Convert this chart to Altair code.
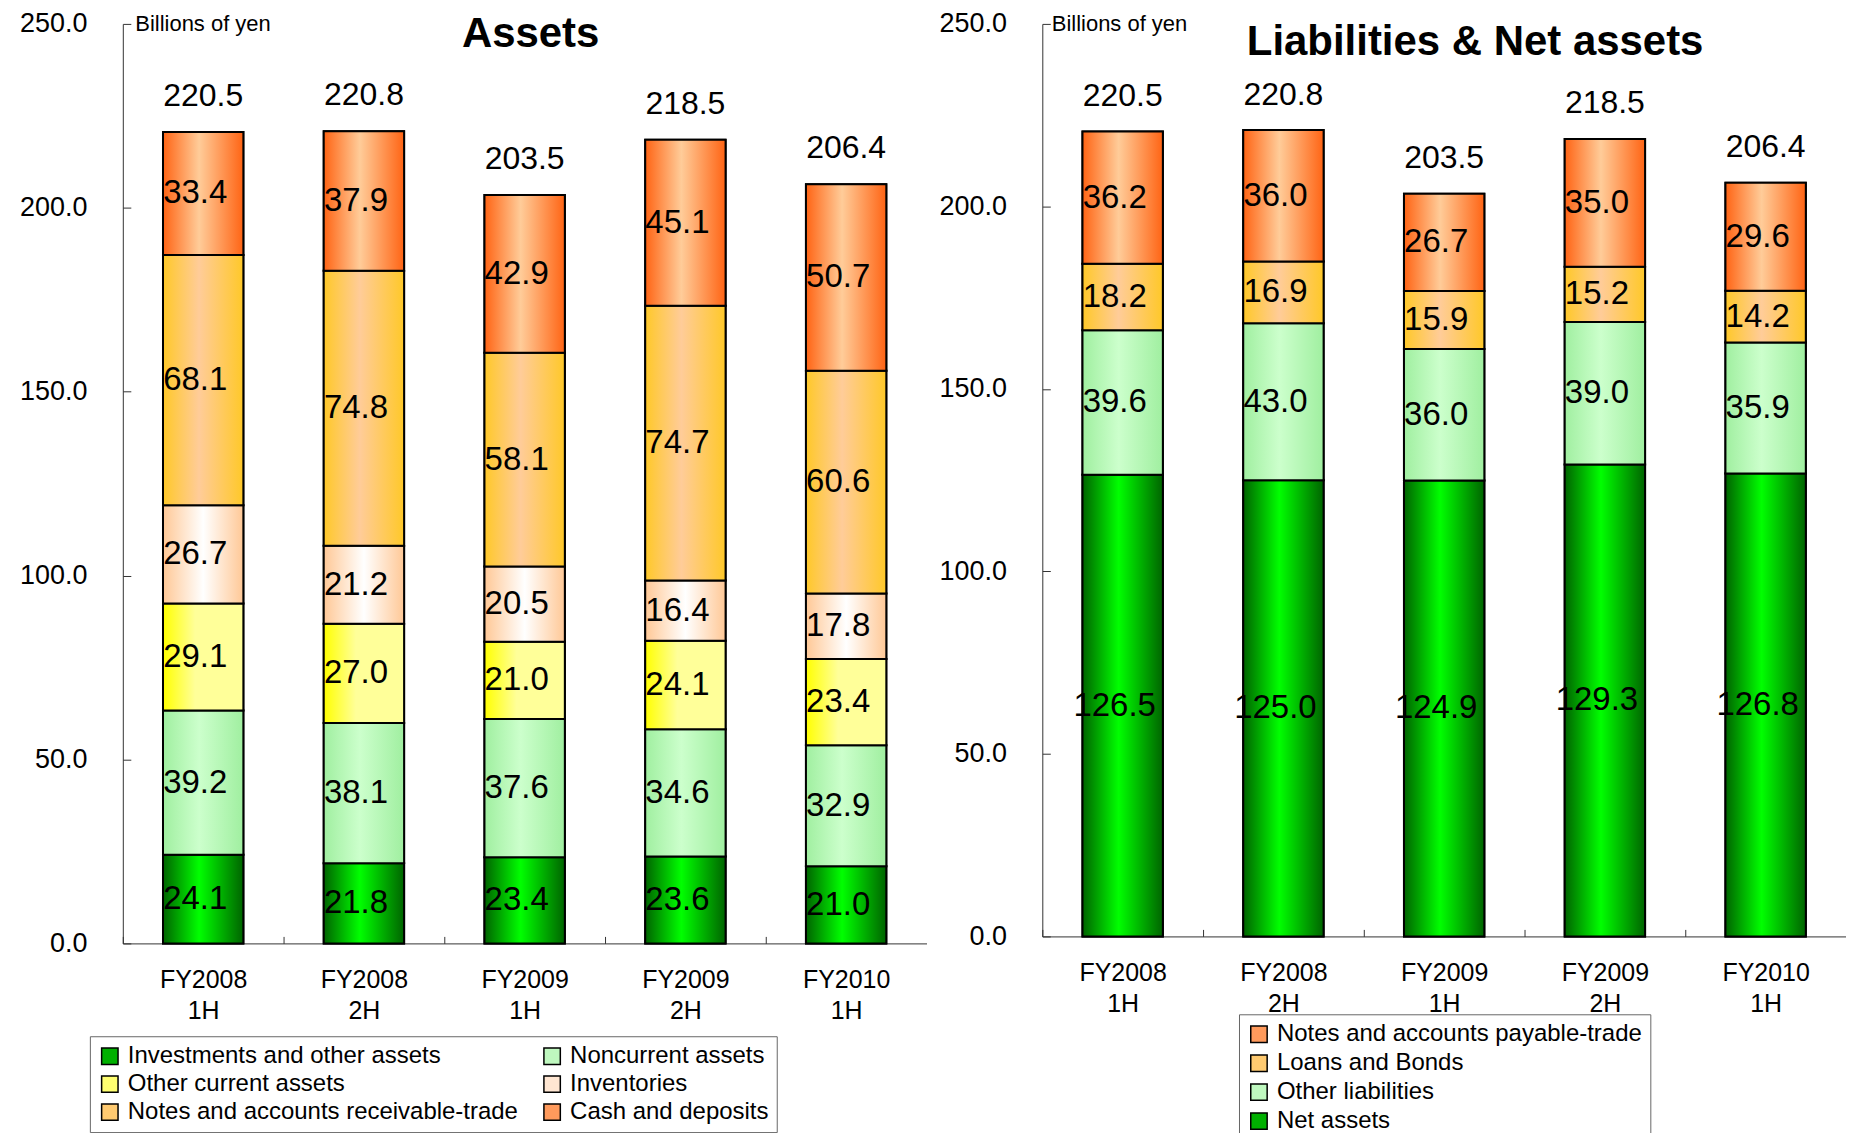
import altair as alt
import pandas as pd

# ---------------- data ----------------
categories = ["FY2008 1H", "FY2008 2H", "FY2009 1H", "FY2009 2H", "FY2010 1H"]
totals = [220.5, 220.8, 203.5, 218.5, 206.4]

asset_series = ["Investments and other assets", "Noncurrent assets", "Other current assets",
                "Inventories", "Notes and accounts receivable-trade", "Cash and deposits"]
investments = [24.1, 21.8, 23.4, 23.6, 21.0]
noncurrent = [39.2, 38.1, 37.6, 34.6, 32.9]
other_current = [29.1, 27.0, 21.0, 24.1, 23.4]
inventories = [26.7, 21.2, 20.5, 16.4, 17.8]
receivable = [68.1, 74.8, 58.1, 74.7, 60.6]
cash = [33.4, 37.9, 42.9, 45.1, 50.7]

liab_series = ["Net assets", "Other liabilities", "Loans and Bonds", "Notes and accounts payable-trade"]
net_assets = [126.5, 125.0, 124.9, 129.3, 126.8]
other_liab = [39.6, 43.0, 36.0, 39.0, 35.9]
loans = [18.2, 16.9, 15.9, 15.2, 14.2]
payable = [36.2, 36.0, 26.7, 35.0, 29.6]

y_ticks = [0, 50, 100, 150, 200, 250]

# ---------------- styling ----------------
FONT = "Liberation Sans, Arial, sans-serif"
TFONT = "Liberation Sans, Arial, sans-serif"

# edge colour, centre colour, legend colour, centre position
styles = {
    "Investments and other assets": ("#006400", "#00FF00", "#00B000", 0.45),
    "Noncurrent assets": ("#A0EFA0", "#CCFFCC", "#BFF8BF", 0.45),
    "Other current assets": ("#FFFF00", "#FFFF99", "#FFFF70", 0.4),
    "Inventories": ("#FFC896", "#FFFFFF", "#FFE6D2", 0.5),
    "Notes and accounts receivable-trade": ("#FFC828", "#FFCC99", "#FFCA70", 0.45),
    "Cash and deposits": ("#FF6414", "#FFCC99", "#FF9A5C", 0.45),
    "Net assets": ("#006400", "#00FF00", "#00B000", 0.45),
    "Other liabilities": ("#A0EFA0", "#CCFFCC", "#BFF8BF", 0.45),
    "Loans and Bonds": ("#FFC828", "#FFCC99", "#FFCA70", 0.45),
    "Notes and accounts payable-trade": ("#FF6414", "#FFCC99", "#FF9A5C", 0.45),
}


def gradient(name):
    edge, centre, _, pos = styles[name]
    last = centre if name == "Other current assets" else edge
    stops = [alt.GradientStop(color=edge, offset=0),
             alt.GradientStop(color=centre, offset=pos),
             alt.GradientStop(color=last, offset=1)]
    return alt.LinearGradient(gradient="linear", x1=0, x2=1, y1=0, y2=0, stops=stops)


def long_df(series, arrays):
    rows = []
    for i, (s, vals) in enumerate(zip(series, arrays)):
        for c, v in zip(categories, vals):
            rows.append({"cat": c, "series": s, "order": i, "value": v})
    return pd.DataFrame(rows)


def panel(series, arrays, title, width, height, title_dx, title_offset,
          legend_order, legend_cols, legend_x, legend_y, title_x, row_pad):
    df = long_df(series, arrays)
    tot_df = pd.DataFrame({"cat": categories, "total": totals})
    step = width / 5.0

    xenc = alt.X("cat:N", sort=categories,
                 scale=alt.Scale(paddingInner=0.5, paddingOuter=0.25),
                 axis=alt.Axis(title=None, labelAngle=0, labelFontSize=25, labelFont=FONT,
                               labelColor="black", labelExpr="split(datum.label, ' ')",
                               labelLineHeight=31, labelPadding=31, labelBaseline="top",
                               tickSize={"expr": "-7"}, tickOffset=-step / 2,
                               labelOffset=step / 2,
                               tickColor="#333", domainColor="#333", ticks=True))
    yscale = alt.Scale(domain=[0, 250], nice=False, zero=True)
    yaxis = alt.Axis(values=y_ticks, format=".1f", labelFontSize=27, labelFont=FONT,
                     labelColor="black", labelPadding=44, grid=False,
                     tickSize={"expr": "-8"}, tickColor="#333", domainColor="#333",
                     title="Billions of yen", titleAngle=0, titleAlign="left",
                     titleBaseline="middle", titleX=title_x, titleY=0,
                     titleFontSize=22, titleFontWeight="normal", titleFont=FONT,
                     titleColor="black")

    base = alt.Chart(df)
    stacked = base.transform_stack(stack="value", groupby=["cat"], as_=["y0", "y1"],
                                   sort=[alt.SortField("order", order="ascending")])

    legend_colors = [styles[s][2] for s in legend_order]
    legend = alt.Legend(title=None, orient="none", legendX=legend_x, legendY=legend_y,
                        columns=legend_cols, direction="vertical" if legend_cols == 1 else "horizontal",
                        symbolType="square", symbolSize=270, symbolStrokeColor="black",
                        symbolStrokeWidth=1.5, labelFontSize=24, labelFont=FONT,
                        labelColor="black", labelLimit=900, labelOffset=6,
                        rowPadding=row_pad, columnPadding=22, padding=8,
                        strokeColor="#666", fillColor="white")

    bars = stacked.mark_bar(stroke="black", strokeWidth=2).encode(
        x=xenc,
        y=alt.Y("y0:Q", scale=yscale, axis=yaxis),
        y2="y1:Q",
        color=alt.Color("series:N", scale=alt.Scale(domain=legend_order, range=legend_colors),
                        legend=legend),
    )
    layers = [bars]
    for s in series:
        layers.append(
            stacked.transform_filter(alt.datum.series == s)
            .mark_bar(fill=gradient(s), stroke="black", strokeWidth=2)
            .encode(x=xenc, y=alt.Y("y0:Q", scale=yscale, axis=yaxis), y2="y1:Q")
        )
    seg_labels = stacked.transform_calculate(mid="(datum.y0 + datum.y1) / 2").mark_text(
        fontSize=33, font=FONT, dx=-8, baseline="middle", color="black"
    ).encode(x=xenc, y=alt.Y("mid:Q", scale=yscale, axis=yaxis),
             text=alt.Text("value:Q", format=".1f"))
    tot_labels = alt.Chart(tot_df).mark_text(
        fontSize=32, font=FONT, dy=-36, baseline="middle", color="black"
    ).encode(x=xenc, y=alt.Y("total:Q", scale=yscale, axis=yaxis),
             text=alt.Text("total:Q", format=".1f"))
    layers += [seg_labels, tot_labels]

    return alt.layer(*layers).properties(
        width=width, height=height,
        title=alt.TitleParams(title, font=TFONT, fontSize=42, fontWeight="bold",
                              color="black", anchor="middle", frame="group",
                              dx=title_dx, offset=title_offset, baseline="alphabetic"),
    )


left = panel(asset_series, [investments, noncurrent, other_current, inventories, receivable, cash],
             "Assets", 805, 921, 6, -79,
             asset_series, 2, -33, 1014, 12, 4)
right = panel(liab_series, [net_assets, other_liab, loans, payable],
              "Liabilities & Net assets", 805, 914, 31, -87,
              list(reversed(liab_series)), 1, 197, 992, 9, 5)

chart = alt.hconcat(left, right, spacing=116, bounds="flush").resolve_scale(
    color="independent", x="independent", y="independent"
).resolve_legend(color="independent").properties(
    padding={"left": 11, "top": 1, "right": 0, "bottom": 0}
).configure(font=FONT).configure_view(stroke=None, strokeWidth=0)

chart.save("out.html", embed_options={"renderer": "svg", "actions": False})
